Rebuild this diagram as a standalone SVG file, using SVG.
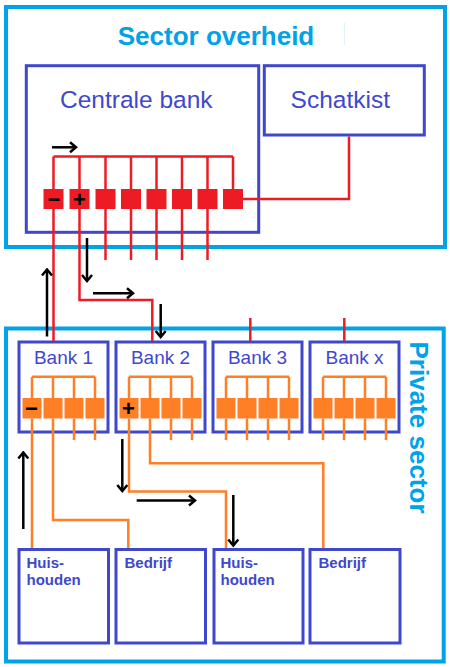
<svg xmlns="http://www.w3.org/2000/svg" width="450" height="667" viewBox="0 0 450 667">
<defs>
<style>
.sector{fill:none;stroke:#00A2E8;stroke-width:4}
.box{fill:#fff;stroke:#3F48CC;stroke-width:3}
.title{font-family:"Liberation Sans",Arial,sans-serif;font-weight:bold;font-size:26px;fill:#00A2E8}
.lbl{font-family:"Liberation Sans",Arial,sans-serif;font-size:24.5px;fill:#3F48CC;text-anchor:middle}
.bank{font-family:"Liberation Sans",Arial,sans-serif;font-size:19px;fill:#3F48CC;text-anchor:middle}
.small{font-family:"Liberation Sans",Arial,sans-serif;font-weight:bold;font-size:15px;fill:#3F48CC}
.sign{font-family:"Liberation Sans",Arial,sans-serif;font-weight:bold;font-size:22px;fill:#000;text-anchor:middle;dominant-baseline:central}
.red{fill:none;stroke:#ED1C24;stroke-width:2.5}
.redsq{fill:#ED1C24}
.org{fill:none;stroke:#FF7F27;stroke-width:2.5}
.orgsq{fill:#FF7F27}
.arr{fill:none;stroke:#000;stroke-width:2.5;marker-end:url(#ah)}
</style>
<marker id="ah" markerUnits="userSpaceOnUse" viewBox="-9 -7 11 14" refX="0" refY="0" markerWidth="11" markerHeight="14" orient="auto">
<path d="M-6,-5 L0,0 L-6,5" fill="none" stroke="#000" stroke-width="2.5"/>
</marker>
<g id="bus4">
<path class="org" d="M13,376.7 H76 M13,376.7 V398 M34,376.7 V398 M55,376.7 V398 M76,376.7 V398"/>
<rect class="orgsq" x="3.5" y="398" width="19" height="20.5"/>
<rect class="orgsq" x="24.5" y="398" width="19" height="20.5"/>
<rect class="orgsq" x="45.5" y="398" width="19" height="20.5"/>
<rect class="orgsq" x="66.5" y="398" width="19" height="20.5"/>
</g>
</defs>
<rect width="450" height="667" fill="#fff"/>

<g id="sector-overheid">
<rect class="sector" x="6" y="7" width="439" height="240"/>
<text class="title" x="216" y="44.5" text-anchor="middle">Sector overheid</text>
<line x1="344.5" y1="23" x2="344.5" y2="45" stroke="#DDF4FB" stroke-width="1"/>
</g>

<g id="private-sector">
<rect class="sector" x="6" y="328.5" width="437.7" height="333"/>
<text class="title" font-size="26.5" text-anchor="middle" transform="translate(410,427.5) rotate(90)">Private sector</text>
</g>

<g id="centrale-bank">
<rect class="box" x="26.3" y="65.7" width="232.4" height="166.6"/>
<text class="lbl" x="136.3" y="108.3">Centrale bank</text>
<path class="red" d="M53.5,156.5 H233 M53.5,156.5 V189 M79.5,156.5 V189 M105.5,156.5 V189 M131,156.5 V189 M156.5,156.5 V189 M182,156.5 V189 M207.5,156.5 V189 M233,156.5 V189"/>
<path class="red" d="M105.5,209 V260 M131,209 V260 M156.5,209 V260 M182,209 V260 M207.5,209 V260"/>
<rect class="redsq" x="43.5" y="189" width="20" height="20"/>
<rect class="redsq" x="69.5" y="189" width="20" height="20"/>
<rect class="redsq" x="95.5" y="189" width="20" height="20"/>
<rect class="redsq" x="121" y="189" width="20" height="20"/>
<rect class="redsq" x="146.5" y="189" width="20" height="20"/>
<rect class="redsq" x="172" y="189" width="20" height="20"/>
<rect class="redsq" x="197.5" y="189" width="20" height="20"/>
<rect class="redsq" x="223" y="189" width="20" height="20"/>
<text class="sign" x="54" y="199">−</text>
<text class="sign" x="79.5" y="199">+</text>
</g>

<g id="schatkist">
<rect class="box" x="264.3" y="65.7" width="160" height="69.3"/>
<text class="lbl" x="340.3" y="107.7">Schatkist</text>
</g>

<g id="bank1">
<rect class="box" x="19" y="342" width="89" height="90"/>
<text class="bank" x="63.5" y="364.3">Bank 1</text>
<use href="#bus4" x="19"/>
<path class="org" d="M74,418.5 V440 M95,418.5 V440"/>
<text class="sign" x="31.5" y="408">−</text>
</g>

<g id="bank2">
<rect class="box" x="116" y="342" width="89" height="90"/>
<text class="bank" x="160.5" y="364.3">Bank 2</text>
<use href="#bus4" x="116"/>
<path class="org" d="M171,418.5 V440 M192,418.5 V440"/>
<text class="sign" x="128.5" y="408">+</text>
</g>

<g id="bank3">
<rect class="box" x="213" y="342" width="89" height="90"/>
<text class="bank" x="257.5" y="364.3">Bank 3</text>
<use href="#bus4" x="213"/>
<path class="org" d="M226,418.5 V440 M247,418.5 V440 M268,418.5 V440 M289,418.5 V440"/>
</g>

<g id="bankx">
<rect class="box" x="310" y="342" width="89" height="90"/>
<text class="bank" x="354.5" y="364.3">Bank x</text>
<use href="#bus4" x="310"/>
<path class="org" d="M323,418.5 V440 M344,418.5 V440 M365,418.5 V440 M386,418.5 V440"/>
</g>

<g id="huishouden1">
<rect class="box" x="19" y="549.5" width="89.5" height="93.5"/>
<text class="small" x="26.5" y="568.3">Huis-</text>
<text class="small" x="26.5" y="585.3">houden</text>
</g>

<g id="bedrijf1">
<rect class="box" x="116" y="549.5" width="89.5" height="93.5"/>
<text class="small" x="124.5" y="568.3">Bedrijf</text>
</g>

<g id="huishouden2">
<rect class="box" x="214" y="549.5" width="89" height="93.5"/>
<text class="small" x="220.5" y="568.3">Huis-</text>
<text class="small" x="220.5" y="585.3">houden</text>
</g>

<g id="bedrijf2">
<rect class="box" x="310" y="549.5" width="90" height="93.5"/>
<text class="small" x="318.5" y="568.3">Bedrijf</text>
</g>

<g id="connectors">
<path class="red" d="M53.5,209 V341"/>
<path class="red" d="M79.5,209 V300 H152.3 V341"/>
<path class="red" d="M243,199 H349 V136.5"/>
<path class="red" d="M250.3,318 V341"/>
<path class="red" d="M344.3,318 V341"/>
<path class="org" d="M32,418.5 V548"/>
<path class="org" d="M53,418.5 V520 H128.3 V548"/>
<path class="org" d="M129,418.5 V491.5 H226 V548"/>
<path class="org" d="M150,418.5 V463.3 H323.3 V548"/>
<path class="arr" d="M52,147.3 H76"/>
<path class="arr" d="M87,238 V281"/>
<path class="arr" d="M93,293.3 H133"/>
<path class="arr" d="M160.7,304 V337"/>
<path class="arr" d="M47,336.5 V269.5"/>
<path class="arr" d="M23.3,529 V452.5"/>
<path class="arr" d="M122.3,439 V491"/>
<path class="arr" d="M136.7,500.5 H195"/>
<path class="arr" d="M233.3,495 V545.5"/>
</g>
</svg>
